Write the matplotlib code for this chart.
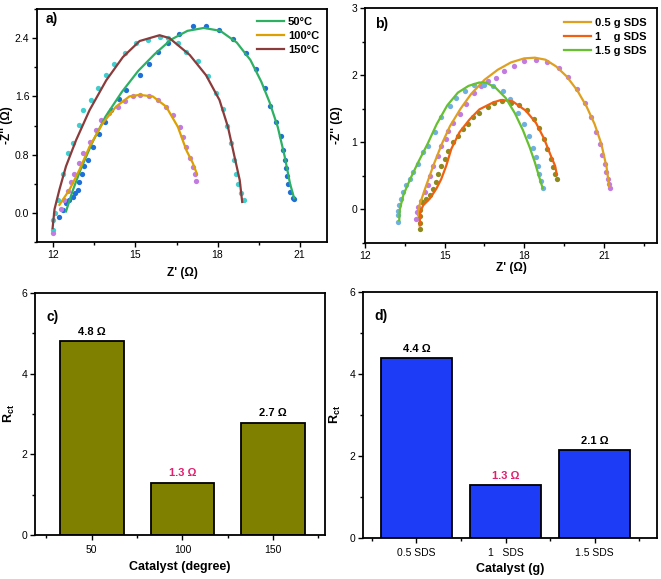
import numpy as np
import matplotlib
matplotlib.use('Agg')
import matplotlib.pyplot as plt
from matplotlib.ticker import MultipleLocator

plt.rcParams['font.family'] = ['Liberation Sans', 'DejaVu Sans']
plt.rcParams['mathtext.fontset'] = 'custom'
plt.rcParams['mathtext.rm'] = 'Liberation Sans'
plt.rcParams['mathtext.bf'] = 'Liberation Sans:bold'
plt.rcParams['mathtext.default'] = 'regular'


#--- panel a : Nyquist, temperature ---#
# 50 C  (points + fit)
a50_x = [12.22, 12.34, 12.46, 12.58, 12.71, 12.80, 12.89, 12.95, 13.04, 13.13, 13.26, 13.44, 13.68, 13.87, 14.11,
         14.38, 14.66, 15.15, 15.51, 15.82, 16.18, 16.58, 17.10, 17.56, 18.07, 18.56, 19.03, 19.39, 19.72, 19.93,
         20.12, 20.31, 20.39, 20.45, 20.49, 20.54, 20.59, 20.66, 20.76, 20.81]
a50_y = [-0.05, 0.04, 0.13, 0.18, 0.22, 0.27, 0.32, 0.43, 0.54, 0.64, 0.73, 0.91, 1.09, 1.25, 1.41,
         1.56, 1.69, 1.89, 2.05, 2.21, 2.33, 2.46, 2.56, 2.57, 2.51, 2.39, 2.19, 1.97, 1.71, 1.47,
         1.25, 1.05, 0.86, 0.73, 0.61, 0.50, 0.40, 0.29, 0.20, 0.19]
a50_fx = [12.46, 12.7, 13.0, 13.4, 13.9, 14.5, 15.1, 15.7, 16.3, 16.9, 17.5, 18.1, 18.7, 19.2, 19.6, 19.9, 20.2, 20.45, 20.65, 20.8]
a50_fy = [0.02, 0.30, 0.60, 0.95, 1.32, 1.66, 1.95, 2.18, 2.38, 2.50, 2.54, 2.50, 2.34, 2.10, 1.80, 1.52, 1.18, 0.78, 0.40, 0.20]

# 100 C
a100_x = [11.97, 12.28, 12.40, 12.52, 12.65, 12.77, 12.95, 13.07, 13.32, 13.56, 13.75, 14.05, 14.35, 14.60, 14.90,
          15.15, 15.51, 15.82, 16.12, 16.37, 16.61, 16.73, 16.86, 16.98, 17.10, 17.16, 17.22]
a100_y = [-0.28, 0.06, 0.18, 0.30, 0.43, 0.54, 0.68, 0.82, 0.98, 1.14, 1.28, 1.37, 1.46, 1.53, 1.60,
          1.62, 1.60, 1.55, 1.46, 1.34, 1.18, 1.04, 0.91, 0.75, 0.63, 0.54, 0.44]
a100_fx = [12.22, 12.59, 12.95, 13.32, 13.80, 14.29, 14.78, 15.15, 15.63, 16.12, 16.55, 16.86, 17.10, 17.24]
a100_fy = [0.11, 0.32, 0.59, 0.91, 1.23, 1.46, 1.60, 1.62, 1.60, 1.46, 1.18, 0.86, 0.68, 0.54]

# 150 C
a150_x = [11.97, 11.98, 12.04, 12.16, 12.34, 12.52, 12.71, 12.95, 13.07, 13.38, 13.62, 13.93, 14.23, 14.60, 15.03,
          15.45, 15.88, 16.18, 16.55, 16.86, 17.28, 17.65, 17.95, 18.20, 18.35, 18.50, 18.59, 18.69, 18.75, 18.87, 18.95]
a150_y = [-0.23, -0.10, 0.00, 0.18, 0.54, 0.82, 0.96, 1.21, 1.41, 1.55, 1.71, 1.89, 2.05, 2.19, 2.33,
          2.38, 2.41, 2.40, 2.33, 2.21, 2.08, 1.88, 1.65, 1.43, 1.20, 0.96, 0.73, 0.54, 0.40, 0.27, 0.18]
a150_fx = [11.97, 12.04, 12.22, 12.46, 12.83, 13.32, 13.93, 14.54, 15.15, 15.88, 16.24, 16.98, 17.58, 18.07, 18.38, 18.62, 18.81, 18.90]
a150_fy = [-0.21, 0.05, 0.32, 0.64, 1.00, 1.41, 1.82, 2.14, 2.36, 2.44, 2.40, 2.17, 1.89, 1.55, 1.18, 0.77, 0.45, 0.15]

#--- panel b : Nyquist, SDS amount ---#
b05_x = [13.94, 13.96, 14.00, 14.12, 14.25, 14.37, 14.46, 14.56, 14.75, 14.87, 15.04, 15.12, 15.31, 15.56, 15.81,
         16.12, 16.37, 16.62, 16.94, 17.25, 17.62, 18.00, 18.44, 18.87, 19.29, 19.66, 20.00, 20.29, 20.52, 20.71,
         20.84, 20.94, 21.04, 21.09, 21.14, 21.19, 21.24]
b05_y = [-0.14, -0.04, 0.04, 0.13, 0.26, 0.36, 0.50, 0.65, 0.80, 0.95, 1.05, 1.17, 1.29, 1.42, 1.57,
         1.74, 1.84, 1.91, 1.96, 2.06, 2.14, 2.21, 2.23, 2.20, 2.11, 1.97, 1.79, 1.58, 1.37, 1.16,
         0.97, 0.81, 0.68, 0.55, 0.45, 0.38, 0.32]
b05_fx = [14.0, 14.05, 14.3, 14.6, 14.9, 15.2, 15.6, 16.0, 16.5, 17.0, 17.5, 18.0, 18.4, 18.8, 19.2, 19.6, 20.0, 20.35, 20.65, 20.9, 21.1, 21.2]
b05_fy = [-0.09, 0.06, 0.35, 0.68, 0.98, 1.24, 1.50, 1.72, 1.93, 2.08, 2.19, 2.25, 2.26, 2.23, 2.13, 1.98, 1.77, 1.53, 1.27, 0.98, 0.63, 0.34]

b1_x = [14.06, 14.06, 14.06, 14.08, 14.16, 14.31, 14.46, 14.56, 14.66, 14.75, 14.87, 15.00, 15.12, 15.31, 15.50,
        15.69, 15.87, 16.06, 16.31, 16.62, 16.87, 17.17, 17.50, 17.81, 18.09, 18.37, 18.56, 18.75, 18.87, 19.00,
        19.09, 19.15, 19.25]
b1_y = [-0.29, -0.20, -0.10, -0.01, 0.11, 0.16, 0.21, 0.31, 0.41, 0.53, 0.65, 0.75, 0.87, 1.00, 1.10,
        1.20, 1.27, 1.37, 1.44, 1.52, 1.58, 1.61, 1.58, 1.55, 1.48, 1.35, 1.22, 1.05, 0.90, 0.75,
        0.63, 0.53, 0.45]
b1_fx = [14.06, 14.08, 14.19, 14.44, 14.69, 14.87, 15.06, 15.25, 15.56, 15.94, 16.31, 16.81, 17.12, 17.56, 18.06, 18.44, 18.75, 19.00, 19.16, 19.22]
b1_fy = [-0.24, -0.04, 0.06, 0.16, 0.31, 0.45, 0.65, 0.90, 1.15, 1.34, 1.49, 1.59, 1.63, 1.61, 1.47, 1.29, 1.05, 0.80, 0.65, 0.53]

b15_x = [13.25, 13.25, 13.25, 13.29, 13.34, 13.44, 13.56, 13.69, 13.81, 14.00, 14.19, 14.37, 14.62, 14.87, 15.19,
         15.44, 15.75, 16.12, 16.50, 16.81, 17.19, 17.45, 17.75, 18.00, 18.19, 18.31, 18.44, 18.50, 18.56, 18.62, 18.69]
b15_y = [-0.19, -0.09, -0.02, 0.06, 0.16, 0.26, 0.36, 0.45, 0.55, 0.68, 0.85, 0.95, 1.15, 1.37, 1.54,
         1.66, 1.76, 1.85, 1.86, 1.84, 1.76, 1.64, 1.44, 1.27, 1.10, 0.92, 0.78, 0.65, 0.53, 0.43, 0.32]
b15_fx = [13.29, 13.31, 13.45, 13.7, 14.0, 14.35, 14.7, 15.1, 15.5, 15.9, 16.3, 16.55, 16.9, 17.3, 17.65, 17.95, 18.2, 18.4, 18.55, 18.69]
b15_fy = [-0.16, 0.00, 0.22, 0.45, 0.70, 0.97, 1.27, 1.55, 1.74, 1.84, 1.89, 1.89, 1.82, 1.66, 1.43, 1.18, 0.93, 0.70, 0.50, 0.32]

#--- panels c, d : Rct bars ---#
temps = [50, 100, 150]
rct_temp = [4.8, 1.3, 2.77]
rct_temp_lbl = ['4.8 Ω', '1.3 Ω', '2.7 Ω']

sds_names = ['0.5 SDS', '1   SDS', '1.5 SDS']
rct_sds = [4.4, 1.3, 2.15]
rct_sds_lbl = ['4.4 Ω', '1.3 Ω', '2.1 Ω']


W, H = 661, 579
fig = plt.figure(figsize=(W/100, H/100), dpi=100)

def box(l, t, r, b):
    return [l/W, 1 - b/H, (r-l)/W, (b-t)/H]

ax_a = fig.add_axes(box(37, 9, 327, 242))
ax_b = fig.add_axes(box(365, 8, 657, 243))
ax_c = fig.add_axes(box(35, 293, 325, 535))
ax_d = fig.add_axes(box(363, 292, 657, 538))

tick_fs = 7.5
lab_fs = 8.5
ms = 3.8
lw = 1.6

def style(ax):
    for s in ax.spines.values():
        s.set_linewidth(1.3)
    ax.tick_params(which='major', direction='out', length=3.5, width=1, labelsize=tick_fs, pad=2)
    ax.tick_params(which='minor', direction='out', length=2, width=1)
    ax.tick_params(top=False, right=False)


# a)
ax_a.plot(a50_x, a50_y, 'o', color='#1f6fd8', ms=ms, mew=0)
ax_a.plot(a150_x, a150_y, 'o', color='#3fcfcf', ms=ms, mew=0)
ax_a.plot(a100_x, a100_y, 'o', color='#c27be0', ms=ms, mew=0)
ax_a.plot(a50_fx, a50_fy, color='#2eb063', lw=lw, label='50°C')
ax_a.plot(a100_fx, a100_fy, color='#dca100', lw=lw, label='100°C')
ax_a.plot(a150_fx, a150_fy, color='#8a3b3b', lw=lw, label='150°C')
ax_a.set_xlim(11.4, 22)
ax_a.set_ylim(-0.4, 2.8)
ax_a.set_xticks([12, 15, 18, 21])
ax_a.xaxis.set_minor_locator(MultipleLocator(1.5))
ax_a.set_yticks([0.0, 0.8, 1.6, 2.4])
ax_a.set_yticklabels(['0.0', '0.8', '1.6', '2.4'])
ax_a.yaxis.set_minor_locator(MultipleLocator(0.4))
ax_a.set_xlabel("Z' (Ω)", fontsize=lab_fs, fontweight='bold', labelpad=5)
ax_a.set_ylabel("-Z'' (Ω)", fontsize=lab_fs, fontweight='bold', labelpad=1)
ax_a.text(0.03, 0.985, 'a)', transform=ax_a.transAxes, fontsize=10, fontweight='bold', va='top')
ax_a.legend(loc='upper right', frameon=False, prop={'weight': 'bold', 'size': 8},
            handlelength=2.4, handletextpad=0.4, labelspacing=0.35, borderaxespad=0.3)
style(ax_a)

# b)
ax_b.plot(b05_x, b05_y, 'o', color='#c27be0', ms=ms, mew=0)
ax_b.plot(b1_x, b1_y, 'o', color='#8c8a1e', ms=ms, mew=0)
ax_b.plot(b15_x, b15_y, 'o', color='#6fb0e0', ms=ms, mew=0)
ax_b.plot(b05_fx, b05_fy, color='#dfa020', lw=lw, label='0.5 g SDS')
ax_b.plot(b1_fx, b1_fy, color='#f06010', lw=lw, label='1    g SDS')
ax_b.plot(b15_fx, b15_fy, color='#66c030', lw=lw, label='1.5 g SDS')
ax_b.set_xlim(12, 23)
ax_b.set_ylim(-0.5, 3)
ax_b.set_xticks([12, 15, 18, 21])
ax_b.xaxis.set_minor_locator(MultipleLocator(1.5))
ax_b.set_yticks([0, 1, 2, 3])
ax_b.yaxis.set_minor_locator(MultipleLocator(0.5))
ax_b.set_xlabel("Z' (Ω)", fontsize=lab_fs, fontweight='bold', labelpad=1)
ax_b.set_ylabel("-Z'' (Ω)", fontsize=lab_fs, fontweight='bold', labelpad=6)
ax_b.text(0.035, 0.96, 'b)', transform=ax_b.transAxes, fontsize=10, fontweight='bold', va='top')
ax_b.legend(loc='upper right', frameon=False, prop={'weight': 'bold', 'size': 8},
            handlelength=2.4, handletextpad=0.4, labelspacing=0.35, borderaxespad=0.5)
style(ax_b)

# c)
ax_c.bar(temps, rct_temp, width=35, color='#808000', edgecolor='black', linewidth=1.3)
for xx, v, s in zip(temps, rct_temp, rct_temp_lbl):
    ax_c.text(xx, v + 0.12, s, ha='center', va='bottom', fontsize=8, fontweight='bold',
              color='#e0206e' if s.startswith('1.3') else 'black')
ax_c.set_xlim(18.7, 178.6)
ax_c.set_ylim(0, 6)
ax_c.set_xticks(temps)
ax_c.xaxis.set_minor_locator(MultipleLocator(25))
ax_c.set_yticks([0, 2, 4, 6])
ax_c.yaxis.set_minor_locator(MultipleLocator(1))
ax_c.set_xlabel('Catalyst (degree)', fontsize=9, fontweight='bold', labelpad=4)
ax_c.set_ylabel(r'$\mathbf{R_{ct}}$', fontsize=9, labelpad=3)
ax_c.text(0.04, 0.93, 'c)', transform=ax_c.transAxes, fontsize=10, fontweight='bold', va='top')
style(ax_c)
ax_c.tick_params(axis='x', which='major', pad=4)

# d)
pos = np.arange(1, len(sds_names) + 1)
ax_d.bar(pos, rct_sds, width=0.8, color='#1c3cf5', edgecolor='black', linewidth=1.3)
for xx, v, s in zip(pos, rct_sds, rct_sds_lbl):
    ax_d.text(xx, v + 0.1, s, ha='center', va='bottom', fontsize=8, fontweight='bold',
              color='#e0206e' if s.startswith('1.3') else 'black')
ax_d.set_xlim(0.4, 3.7)
ax_d.set_ylim(0, 6)
ax_d.set_xticks(pos)
ax_d.set_xticklabels(sds_names)
ax_d.xaxis.set_minor_locator(MultipleLocator(0.5))
ax_d.set_yticks([0, 2, 4, 6])
ax_d.yaxis.set_minor_locator(MultipleLocator(1))
ax_d.set_xlabel('Catalyst (g)', fontsize=9, fontweight='bold', labelpad=3)
ax_d.set_ylabel(r'$\mathbf{R_{ct}}$', fontsize=9, labelpad=5)
ax_d.text(0.04, 0.93, 'd)', transform=ax_d.transAxes, fontsize=10, fontweight='bold', va='top')
style(ax_d)
ax_d.tick_params(axis='x', which='major', pad=4)

fig.savefig('out.png', dpi=100)
